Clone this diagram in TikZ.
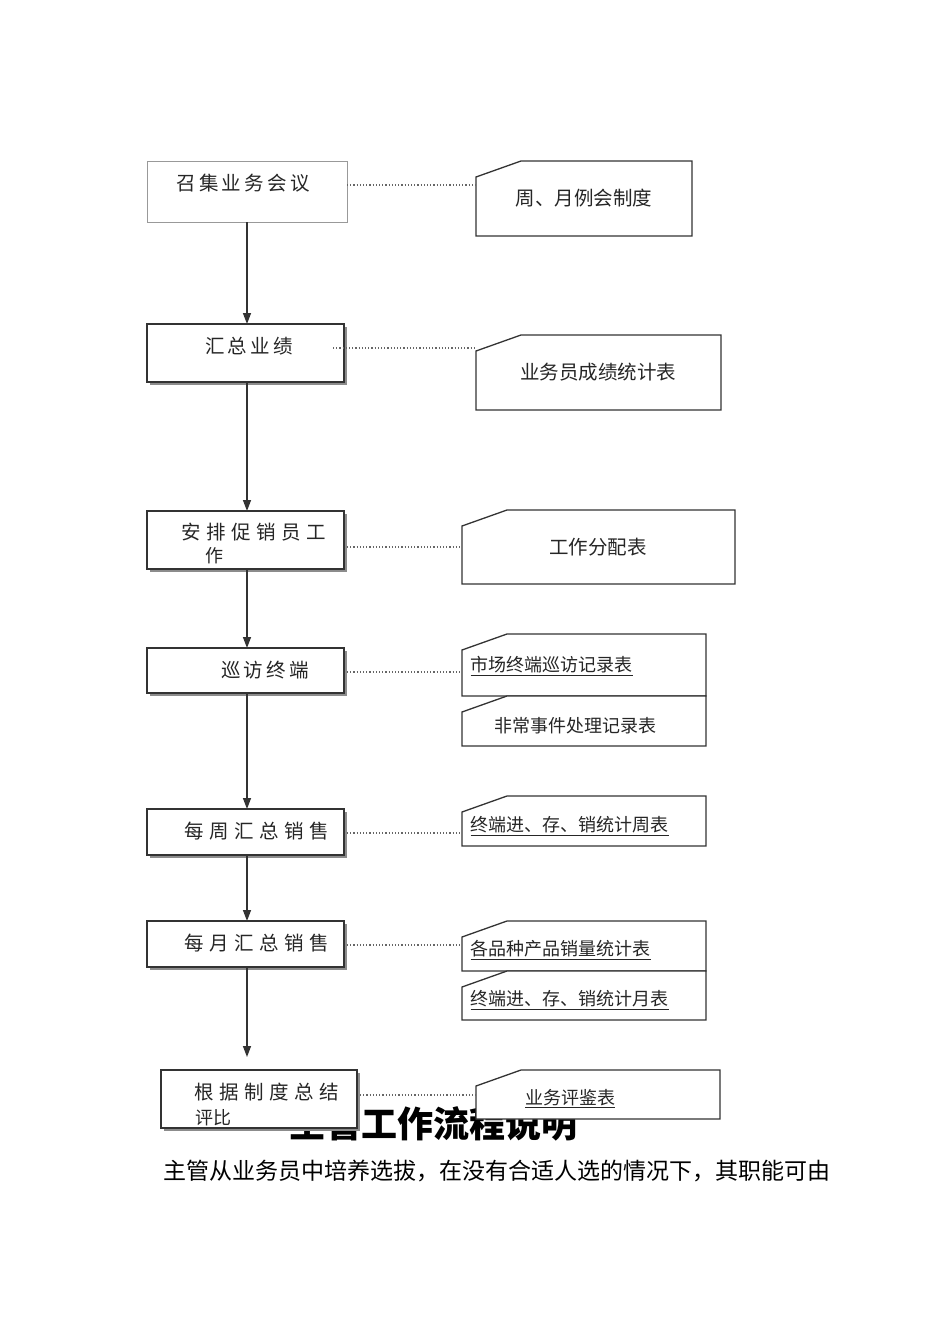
\documentclass[tikz,border=0pt]{standalone}
\usepackage{fontspec}
\setmainfont{Noto Sans CJK SC}
\usetikzlibrary{arrows.meta}
\begin{document}
\begin{tikzpicture}[x=1pt,y=-1pt,
  box/.style={draw=black!80,line width=1.4pt,fill=white},
  sh/.style={fill=black!45},
  doc/.style={draw=black!80,line width=1.3pt,fill=white},
  lbl/.style={font=\fontsize{19.5}{21}\selectfont,text=black!85},
  sm/.style={font=\fontsize{18}{20}\selectfont,text=black!85},
  dot/.style={black!60,dotted,line width=1.2pt},
  arr/.style={black!80,line width=1.4pt,-{Triangle[length=11pt,width=8pt]}}]
\useasboundingbox (0,0) rectangle (950,1344);
% title and body text (partly covered)
\node[font=\fontsize{36}{40}\selectfont\bfseries] (title) at (433,1124) {主管工作流程说明};
\node[anchor=west,font=\fontsize{23}{26}\selectfont] (body) at (160,1171) {主管从业务员中培养选拔，在没有合适人选的情况下，其职能可由};
% left boxes
\draw[draw=black!40,line width=0.8pt,fill=white] (147,161) rectangle (347,222);
\node[lbl] (b1) at (243,183) {召\,集\,业\,务\,会\,议};
\coordinate (b1s) at (247,222); \coordinate (b1e) at (347,185);
\foreach \n/\xa/\ya/\xb/\yb in {2/147/324/344/382,3/147/511/344/569,4/147/648/344/693,5/147/809/344/855,6/147/921/344/967,7/161/1070/357/1128}{
  \fill[sh] (\xa+3,\ya+3) rectangle (\xb+3,\yb+3);
  \draw[box] (\xa,\ya) rectangle (\xb,\yb);
  \coordinate (t\n) at ({(\xa+\xb)/2},\ya);
}
\node[lbl] (b2) at (249,346) {汇\,总\,业\,绩};
\node[lbl,anchor=west] (b3) at (178,532) {安\;排\;促\;销\;员\;工};
\node[sm,anchor=west] (b3b) at (202,556) {作};
\node[lbl] (b4) at (265,670) {巡\,访\,终\,端};
\node[lbl,anchor=west] (b5) at (181,831) {每\;周\;汇\;总\;销\;售};
\node[lbl,anchor=west] (b6) at (181,943) {每\;月\;汇\;总\;销\;售};
\node[lbl,anchor=west] (b7) at (191,1092) {根\;据\;制\;度\;总\;结};
\node[sm,anchor=west] (b7b) at (192,1118) {评比};
% arrows
\draw[arr] (b1s) -- (247,324);
\draw[arr] (247,382) -- (247,511);
\draw[arr] (247,569) -- (247,648);
\draw[arr] (247,693) -- (247,809);
\draw[arr] (247,855) -- (247,921);
\coordinate (end7) at (247,1057);
\draw[arr] (247,967) -- (end7);
% right documents
\foreach \xa/\ya/\xb/\yb in {476/161/692/236,476/335/721/410,462/510/735/584,462/634/706/696,462/696/706/746,462/796/706/846,462/921/706/971,462/971/706/1020,476/1070/720/1119}{
  \draw[doc] (\xa,\ya+16) -- (\xa+45,\ya) -- (\xb,\ya) -- (\xb,\yb) -- (\xa,\yb) -- cycle;
}
\node[lbl] (d1) at (584,198) {周、月例会制度};
\node[lbl] (d2) at (598,372) {业务员成绩统计表};
\node[lbl] (d3) at (598,547) {工作分配表};
\node[sm,anchor=west] (d4) at (467,666) {\underline{市场终端巡访记录表}};
\node[sm] (d5) at (575,726) {非常事件处理记录表};
\node[sm,anchor=west] (d6) at (467,826) {\underline{终端进、存、销统计周表}};
\node[sm,anchor=west] (d7) at (467,950) {\underline{各品种产品销量统计表}};
\node[sm,anchor=west] (d8) at (467,1000) {\underline{终端进、存、销统计月表}};
\node[sm] (d9) at (570,1099) {\underline{业务评鉴表}};
% dotted connectors
\draw[dot] (b1e) -- (476,185);
\draw[dot] (333,348) -- (476,348);
\draw[dot] (347,547) -- (462,547);
\draw[dot] (347,672) -- (462,672);
\draw[dot] (347,833) -- (462,833);
\draw[dot] (347,945) -- (462,945);
\draw[dot] (360,1095) -- (476,1095);
\end{tikzpicture}
\end{document}
